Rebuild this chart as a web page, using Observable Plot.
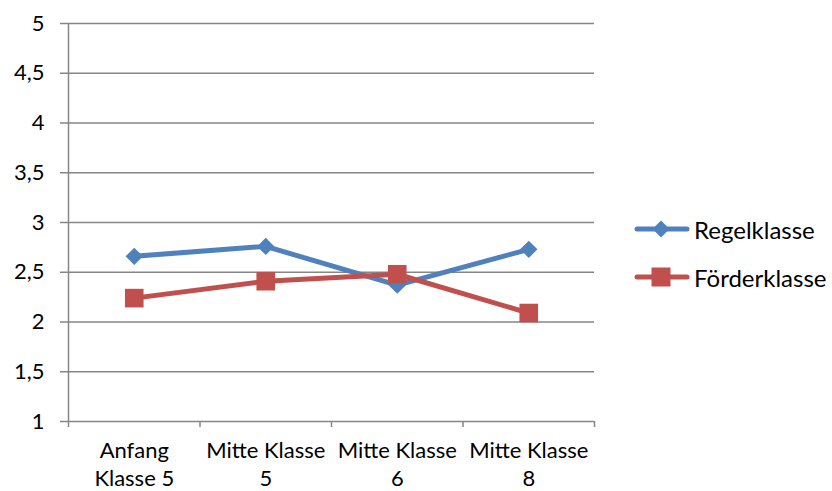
<!DOCTYPE html>
<html>
<head>
<meta charset="utf-8">
<script src="https://cdn.jsdelivr.net/npm/d3@7"></script>
<script src="https://cdn.jsdelivr.net/npm/@observablehq/plot@0.6"></script>
<style>
  html, body { margin: 0; padding: 0; background: #fff; }
  #chart { position: relative; width: 832px; height: 491px; font-family: Lato, "Open Sans", sans-serif; }
  #legend { position: absolute; left: 634px; top: 205px; font-size: 24px; color: #000; }
  .item { display: flex; align-items: center; height: 48px; }
  .item span { margin-left: 4px; }
</style>
</head>
<body>
<div id="chart"><div id="legend"></div></div>
<script>
// Zeitpunkte der Erhebung
const categories = ["Anfang\nKlasse 5", "Mitte Klasse\n5", "Mitte Klasse\n6", "Mitte Klasse\n8"];
// Mittelwerte je Klassentyp
const regelklasse = [2.66, 2.76, 2.37, 2.73];
const foerderklasse = [2.24, 2.41, 2.48, 2.09];
const seriesNames = ["Regelklasse", "Förderklasse"];
const seriesColors = ["#4F81BD", "#C0504D"];
const yTicks = [1, 1.5, 2, 2.5, 3, 3.5, 4, 4.5, 5];

// Kategorien liegen mittig in ihren Abschnitten (Index + 0.5)
const rows = [];
[regelklasse, foerderklasse].forEach((vals, s) =>
  vals.forEach((v, i) => rows.push({series: seriesNames[s], pos: i + 0.5, value: v}))
);
const centers = categories.map((_, i) => i + 0.5);
const bounds = d3.range(categories.length + 1);

const plot = Plot.plot({
  width: 832,
  height: 491,
  marginLeft: 68,
  marginRight: 238,
  marginTop: 23,
  marginBottom: 70,
  style: {fontFamily: "Lato, 'Open Sans', sans-serif", fontSize: "22px", color: "#000", background: "#fff", overflow: "visible"},
  x: {type: "linear", domain: [0, categories.length]},
  y: {domain: [1, 5]},
  color: {domain: seriesNames, range: seriesColors},
  marks: [
    Plot.gridY(yTicks, {stroke: "#868686", strokeOpacity: 1, strokeWidth: 1.5}),
    Plot.axisY(yTicks, {tickSize: 8, tickPadding: 16, stroke: "#868686", strokeWidth: 1.5,
      tickFormat: d => String(d).replace(".", ","), label: null, fill: "#000"}),
    Plot.ruleX([0], {y1: 1, y2: 5, stroke: "#868686", strokeWidth: 1.5}),
    Plot.axisX(bounds, {tickSize: 6, stroke: "#868686", strokeWidth: 1.5, tickFormat: () => "", label: null}),
    Plot.axisX(centers, {tickSize: 0, tickPadding: 17, lineHeight: 1.27, fill: "#000",
      tickFormat: d => categories[Math.floor(d)], label: null}),
    Plot.line(rows, {x: "pos", y: "value", z: "series", stroke: "series", strokeWidth: 5, strokeLinejoin: "round", strokeLinecap: "round"}),
    Plot.dot(rows.filter(d => d.series === seriesNames[0]), {x: "pos", y: "value", symbol: "diamond2", r: 7.8, fill: seriesColors[0], stroke: "none"}),
    Plot.dot(rows.filter(d => d.series === seriesNames[1]), {x: "pos", y: "value", symbol: "square", r: 10.5, fill: seriesColors[1], stroke: "none"})
  ]
});
document.getElementById("chart").prepend(plot);

// Legende
const legend = d3.select("#legend");
seriesNames.forEach((name, i) => {
  const item = legend.append("div").attr("class", "item");
  const svg = item.append("svg").attr("width", 56).attr("height", 24);
  svg.append("line").attr("x1", 3).attr("x2", 53).attr("y1", 12).attr("y2", 12)
    .attr("stroke", seriesColors[i]).attr("stroke-width", 5).attr("stroke-linecap", "round");
  if (i === 0) {
    svg.append("path").attr("d", "M27,3.5L35.5,12L27,20.5L18.5,12Z").attr("fill", seriesColors[i]);
  } else {
    svg.append("rect").attr("x", 17.5).attr("y", 2.5).attr("width", 19).attr("height", 19).attr("fill", seriesColors[i]);
  }
  item.append("span").text(name);
});
</script>
</body>
</html>
